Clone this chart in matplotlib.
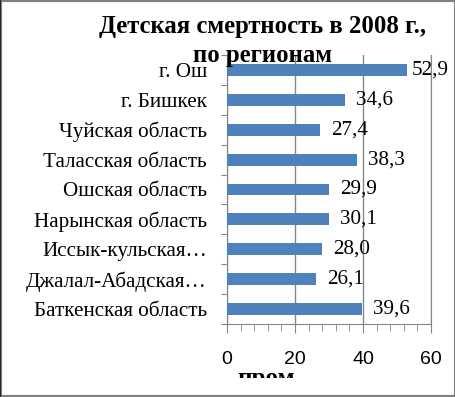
import numpy as np
import matplotlib.pyplot as plt
from matplotlib.patches import Rectangle
from matplotlib.transforms import Bbox, TransformedBbox

regiony = ["г. Ош", "г. Бишкек", "Чуйская область", "Таласская область",
           "Ошская область", "Нарынская область", "Иссык-кульская…",
           "Джалал-Абадская…", "Баткенская область"]
wartosci = [52.9, 34.6, 27.4, 38.3, 29.9, 30.1, 28.0, 26.1, 39.6]
x_ticki = [0, 20, 40, 60]

serif = "Liberation Serif"
sans = "Liberation Sans"
szary = "#868686"
PX = 0.72  # piksele -> punkty przy dpi 100

fig = plt.figure(figsize=(4.56, 3.97), dpi=100)
ax = fig.add_axes([227 / 456, 1 - 324 / 397, 204 / 456, 269 / 397])

y = np.arange(len(regiony))
ax.barh(y, wartosci, height=0.4, color="#4F81BD", zorder=3)

ax.set_xlim(0, 60)
ax.set_ylim(len(regiony) - 0.5, -0.5)

# podpisy kategorii na srodku, kreski na granicach
ax.set_yticks(np.arange(-0.5, len(regiony), 1))
ax.set_yticklabels([])
ax.set_yticks(y, minor=True)
ax.set_yticklabels(regiony, minor=True, fontsize=15.2, family=serif)
ax.tick_params(axis="y", which="major", direction="out", length=6 * PX, color=szary)
ax.tick_params(axis="y", which="minor", length=0, pad=20 * PX)

ax.set_xticks(x_ticki)
ax.set_xticks(np.arange(0, 61, 4), minor=True)
ax.set_xticklabels([str(v) for v in x_ticki], fontsize=14, family=sans)
ax.tick_params(axis="x", which="major", direction="out", length=9 * PX, color=szary,
               pad=18 * PX)
ax.tick_params(axis="x", which="minor", direction="out", length=7 * PX, color=szary)

ax.grid(axis="x", color=szary, linewidth=1, zorder=0)
ax.spines["top"].set_visible(False)
for s in ["left", "bottom", "right"]:
    ax.spines[s].set_color(szary)

for yi, v in zip(y, wartosci):
    off = 5 if v > 50 else 11
    ax.annotate(f"{v:.1f}".replace(".", ","), (v, yi), xytext=(off * PX, 0),
                textcoords="offset points", va="center", ha="left",
                fontsize=15.2, family=serif)

fig.text(263 / 456, 1 - 33 / 397, "Детская смертность в 2008 г.,",
         ha="center", va="baseline", fontsize=17.8, fontweight="bold",
         family=serif, zorder=5)
fig.text(263 / 456, 1 - 62 / 397, "по регионам",
         ha="center", va="baseline", fontsize=17.8, fontweight="bold",
         family=serif, zorder=5)

t = fig.text(266 / 456, 1 - 385 / 397, "пром", ha="center", va="baseline",
             fontsize=18, fontweight="bold", family=serif)
t.set_clip_box(TransformedBbox(Bbox([[0, 19 / 397], [1, 1]]), fig.transFigure))
t.set_clip_on(True)

fig.patches.append(Rectangle((0, 0), 1, 1, transform=fig.transFigure, fill=False,
                             edgecolor="#808080", linewidth=3))
fig.patches.append(Rectangle((0, 0), 1.5 / 456, 1, transform=fig.transFigure,
                             color="#222222", linewidth=0))

fig.savefig("out.png", dpi=100)
